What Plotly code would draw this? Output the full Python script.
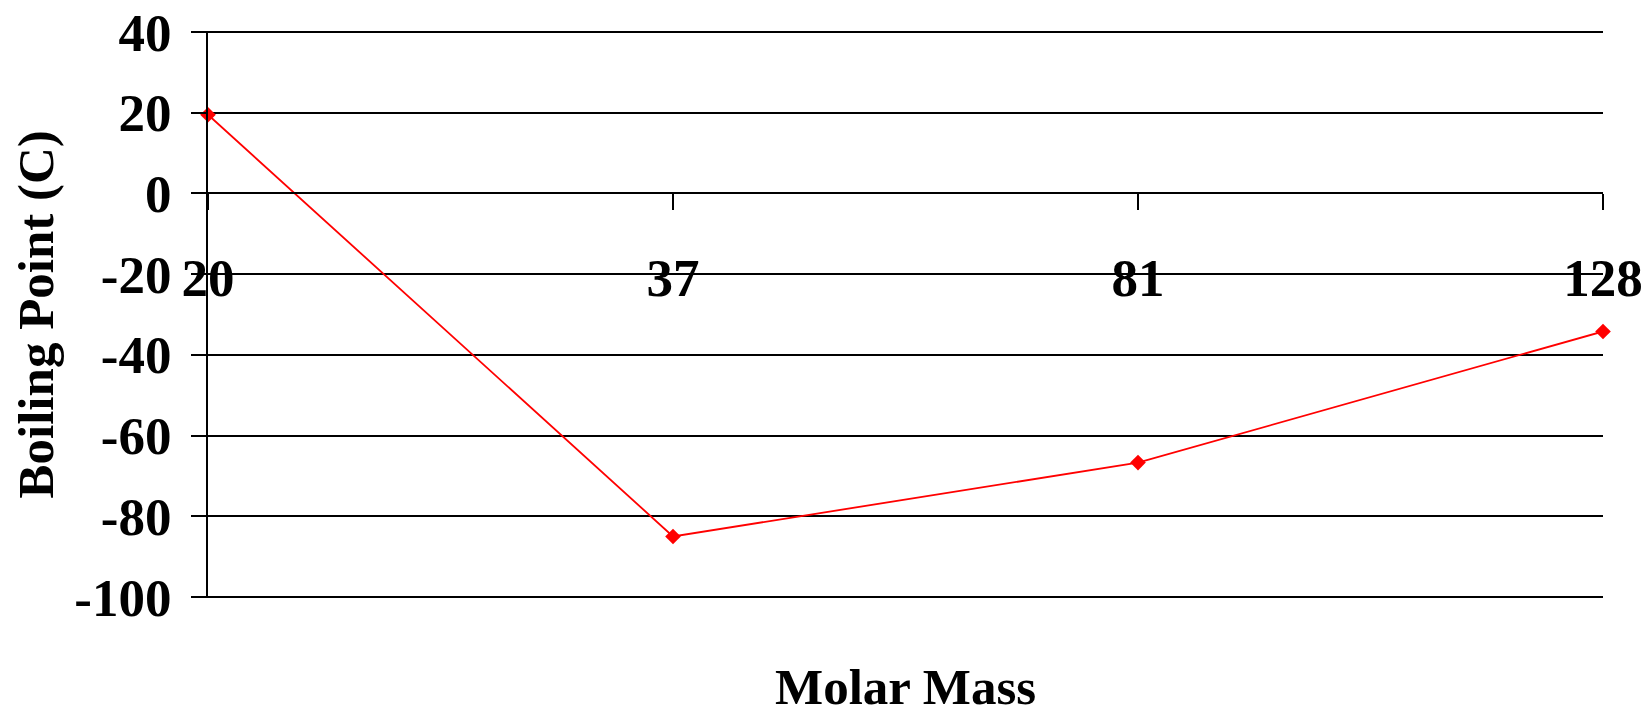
import plotly.graph_objects as go

molar_mass = ["20", "37", "81", "128"]
boiling_point = [19.5, -85.0, -66.7, -34.2]
y_ticks = [40, 20, 0, -20, -40, -60, -80, -100]
y_tick_labels = ["40", "20", "0", "-20", "-40", "-60", "-80", "-100"]

FONT = "Liberation Serif"

fig = go.Figure()
fig.add_trace(go.Scatter(
    x=molar_mass, y=boiling_point, mode="lines+markers",
    line=dict(color="#ff0000", width=1.8),
    marker=dict(symbol="diamond", size=12, color="#ff0000"),
    cliponaxis=False, showlegend=False,
))

pad = 0.25  # small range padding so edge gridlines are drawn
ppu = 565 / 140.0
fig.update_layout(
    width=1646, height=709,
    margin=dict(l=208, r=43, t=32 - pad * ppu, b=112 - pad * ppu),
    paper_bgcolor="white", plot_bgcolor="white",
    font=dict(family=FONT, color="black", size=52, weight=700),
    xaxis=dict(
        type="category", range=[0, 3],
        anchor="free", position=(100 + pad) / (140 + 2 * pad),
        showgrid=False, zeroline=False, automargin=False,
        showline=True, linecolor="black", linewidth=1.8,
        ticks="outside", ticklen=16, tickwidth=1.8, tickcolor="black",
        tickfont=dict(family=FONT, size=53, weight=700, color="black"),
        ticklabelstandoff=22,
    ),
    yaxis=dict(
        range=[-100 - pad, 40 + pad], tickvals=y_ticks, ticktext=y_tick_labels,
        showgrid=True, gridcolor="black", gridwidth=1.8,
        zeroline=False, automargin=False,
        showline=True, linecolor="black", linewidth=1.8,
        ticks="outside", ticklen=15, tickwidth=1.8, tickcolor="black",
        tickfont=dict(family=FONT, size=53, weight=700, color="black"),
        ticklabelstandoff=9,
    ),
    annotations=[
        dict(text="Molar Mass", xref="paper", yref="paper", x=0.5, y=-89/565,
             xanchor="center", yanchor="middle", showarrow=False,
             font=dict(family=FONT, size=51, weight=700, color="black")),
        dict(text="Boiling Point (C)", xref="paper", yref="paper",
             x=(35-208)/1395, y=0.5, textangle=-90,
             xanchor="center", yanchor="middle", showarrow=False,
             font=dict(family=FONT, size=51, weight=700, color="black")),
    ],
)

fig.write_html("out.html")
